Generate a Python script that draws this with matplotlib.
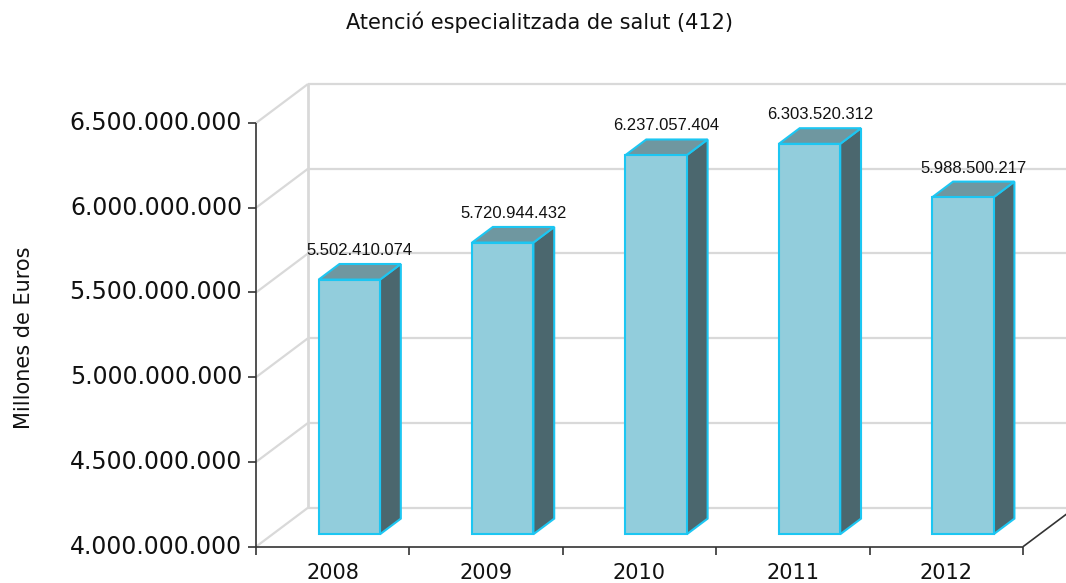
import matplotlib
matplotlib.use("Agg")
import matplotlib.pyplot as plt
from matplotlib.patches import Polygon

# ---- data ----
years = ["2008", "2009", "2010", "2011", "2012"]
values = [5502410074, 5720944432, 6237057404, 6303520312, 5988500217]
value_labels = ["5.502.410.074", "5.720.944.432", "6.237.057.404", "6.303.520.312", "5.988.500.217"]
yticks = [4.0e9, 4.5e9, 5.0e9, 5.5e9, 6.0e9, 6.5e9]
ytick_labels = ["4.000.000.000", "4.500.000.000", "5.000.000.000",
                "5.500.000.000", "6.000.000.000", "6.500.000.000"]
title = "Atenció especialitzada de salut (412)"
ylabel = "Millones de Euros"

# ---- style ----
W, H, DPI = 1066, 583, 100
front_c = "#92CDDC"
side_c = "#4B676E"
top_c = "#6F97A0"
edge_c = "#1CC6F2"
grid_c = "#D9D9D9"

fig = plt.figure(figsize=(W / DPI, H / DPI), dpi=DPI)
ax_l, ax_r, ax_b, ax_t = 256, 1023, 546.7, 123
ax = fig.add_axes([ax_l / W, (H - ax_b) / H, (ax_r - ax_l) / W, (ax_b - ax_t) / H])
ymin, ymax = 4.0e9, 6.5e9
n = len(years)
ax.set_xlim(0, n)
ax.set_ylim(ymin, ymax)
ax.axis("off")

px_x = n / (ax_r - ax_l)
px_y = (ymax - ymin) / (ax_b - ax_t)

# depth vector (pixels) converted to data units
depth_px = (52, 39)
ddx = depth_px[0] * px_x
ddy = depth_px[1] * px_y

def L(xs, ys, **kw):
    ax.plot(xs, ys, clip_on=False, solid_capstyle="butt", **kw)

# back wall gridlines + left wall diagonals
for yv in yticks:
    L([ddx, n + ddx + 0.3], [yv + ddy, yv + ddy], color=grid_c, lw=1.6, zorder=1)
    L([0, ddx], [yv, yv + ddy], color=grid_c, lw=1.6, zorder=1)
L([ddx, ddx], [ymin + ddy, ymax + ddy], color=grid_c, lw=2.0, zorder=1)

# front axes (black)
L([0, 0], [ymin, ymax], color="#333333", lw=1.2, zorder=5)
L([0, n], [ymin, ymin], color="#333333", lw=1.2, zorder=5)
L([n, n + ddx], [ymin, ymin + ddy], color="#333333", lw=1.2, zorder=5)
for yv, lab in zip(yticks, ytick_labels):
    L([-8 * px_x, 0], [yv, yv], color="#333333", lw=1.2, zorder=5)
    ax.text(-14 * px_x, yv, lab, ha="right", va="center",
            fontsize=17, family="DejaVu Sans", color="#111111")
for i in range(n + 1):
    L([i, i], [ymin, ymin - 8 * px_y], color="#333333", lw=1.2, zorder=5)
for i, yr in enumerate(years):
    ax.text(i + 0.5, ymin - 26 * px_y, yr,
            ha="center", va="center", fontsize=15, family="DejaVu Sans", color="#111111")

# bars
f0, f1 = 0.32, 0.72
bw = 0.4
for i, v in enumerate(values):
    x0 = i + 0.5 - bw / 2
    x1 = i + 0.5 + bw / 2
    ox0, oy0 = f0 * ddx, f0 * ddy
    ox1, oy1 = f1 * ddx, f1 * ddy
    front = [(x0 + ox0, ymin + oy0), (x1 + ox0, ymin + oy0),
             (x1 + ox0, v + oy0), (x0 + ox0, v + oy0)]
    side = [(x1 + ox0, ymin + oy0), (x1 + ox1, ymin + oy1),
            (x1 + ox1, v + oy1), (x1 + ox0, v + oy0)]
    top = [(x0 + ox0, v + oy0), (x1 + ox0, v + oy0),
           (x1 + ox1, v + oy1), (x0 + ox1, v + oy1)]
    for pts, c in ((side, side_c), (top, top_c), (front, front_c)):
        ax.add_patch(Polygon(pts, closed=True, facecolor=c, edgecolor=edge_c,
                             lw=1.5, joinstyle="miter", zorder=3, clip_on=False))
    ax.text(i + 0.5 + 0.5 * (f0 + f1) * ddx, v + oy1 + 9 * px_y,
            value_labels[i], ha="center", va="baseline", fontsize=12,
            family="Liberation Sans", color="#111111", zorder=6)

fig.text(539 / W, 1 - 22 / H, title, ha="center", va="center",
         fontsize=15, family="DejaVu Sans", color="#111111")
fig.text(24 / W, 1 - 338 / H, ylabel, ha="center", va="center", rotation=90,
         fontsize=15, family="DejaVu Sans", color="#111111")

fig.savefig("out.png", dpi=DPI)
